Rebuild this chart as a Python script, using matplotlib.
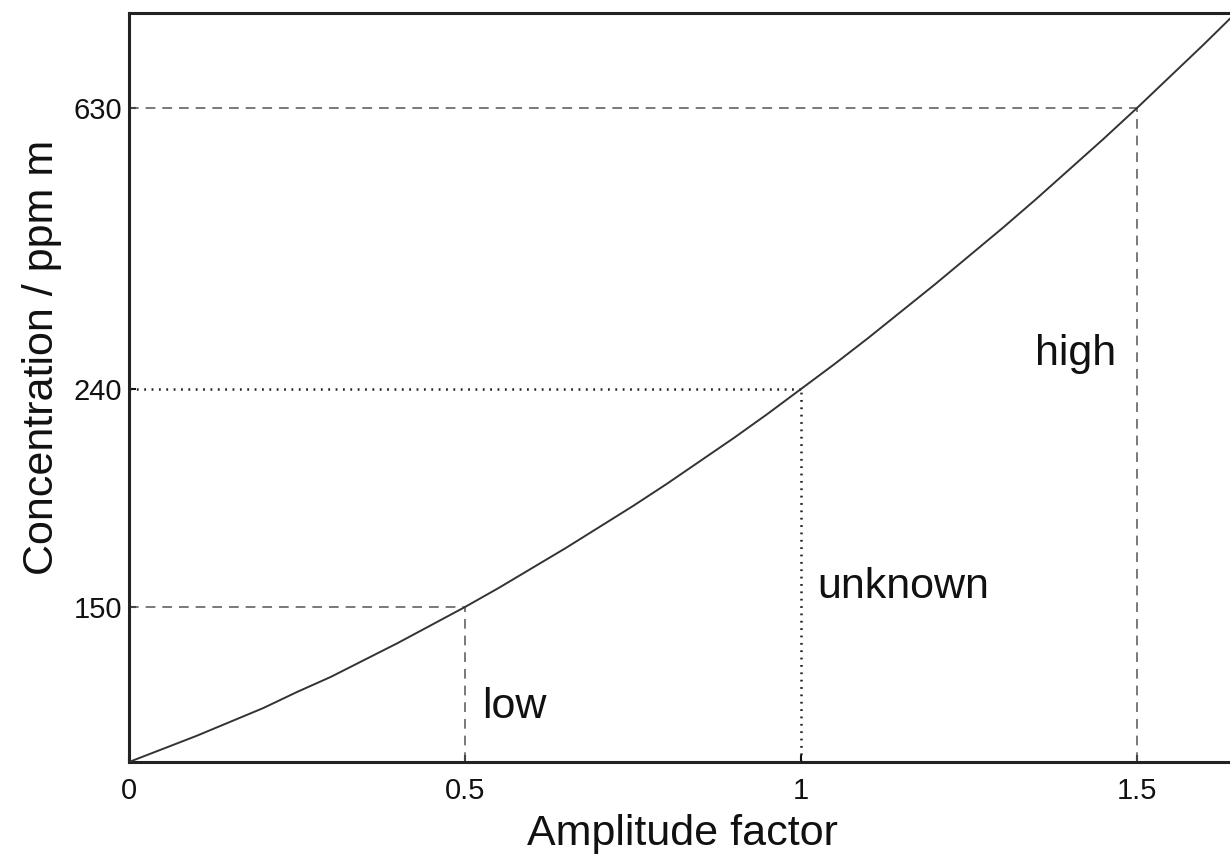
import numpy as np
import matplotlib
matplotlib.use("Agg")
import matplotlib.pyplot as plt

# calibration curve: signal height (arbitrary units) against amplitude factor
amplitude = [0.0, 0.05, 0.1, 0.15, 0.2, 0.25, 0.3, 0.35, 0.4, 0.45,
             0.5, 0.55, 0.6, 0.65, 0.7, 0.75, 0.8, 0.85, 0.9, 0.95,
             1.0, 1.05, 1.1, 1.15, 1.2, 1.25, 1.3, 1.35, 1.4, 1.45,
             1.5, 1.55, 1.6, 1.65, 1.7]
signal = [0, 13, 26, 40, 54, 70, 85, 102, 119, 137,
          155, 174, 194, 214, 235, 256, 278, 301, 324, 348,
          373, 398, 424, 451, 478, 506, 534, 563, 593, 623,
          654, 686, 718, 751, 784]

# reference samples marked on the curve
ref_amplitude = [0.5, 1.0, 1.5]
ref_conc = [150, 240, 630]
ref_names = ["low", "unknown", "high"]
ref_styles = ["dashed", "dotted", "dashed"]

plt.rcParams["font.family"] = ["Liberation Sans", "DejaVu Sans"]
plt.rcParams["lines.scale_dashes"] = False

fig = plt.figure(figsize=(12.3, 8.67), dpi=100)
ax = fig.add_axes([129 / 1230, 105 / 867, (1236 - 129) / 1230, 749 / 867])

ax.plot(amplitude, signal, color="#333333", lw=1.4, zorder=3)

ref_signal = np.interp(ref_amplitude, amplitude, signal)
for xa, ys, style in zip(ref_amplitude, ref_signal, ref_styles):
    ls = (0, (7, 5)) if style == "dashed" else (0, (1.3, 4))
    lw = 1.1 if style == "dashed" else 1.8
    col = "#555555" if style == "dashed" else "#222222"
    ax.plot([0, xa], [ys, ys], color=col, lw=lw, linestyle=ls, zorder=2)
    ax.plot([xa, xa], [0, ys], color=col, lw=lw, linestyle=ls, zorder=2)

# sample names next to the vertical guides
label_pos = [(0.525, 44), (1.024, 164), (1.348, 397)]
for (tx, ty), name in zip(label_pos, ref_names):
    ax.text(tx, ty, name, fontsize=31, va="baseline", ha="left", color="#111111")

ax.set_xlim(0, (1236 - 129) / 672)
ax.set_ylim(0, 749)

ax.set_xticks([0] + ref_amplitude)
ax.set_xticklabels(["0", "0.5", "1", "1.5"])
ax.set_yticks(ref_signal)
ax.set_yticklabels([str(c) for c in ref_conc])

ax.tick_params(axis="x", direction="in", length=5, width=1.5, pad=11,
               labelsize=21, colors="#111111")
ax.tick_params(axis="y", direction="in", length=5, width=1.5, pad=5,
               labelsize=21, colors="#111111")

for side in ["left", "bottom", "top", "right"]:
    ax.spines[side].set_linewidth(2.2)
    ax.spines[side].set_color("#222222")

ax.set_xlabel("Amplitude factor", fontsize=31, labelpad=6, color="#111111")
ax.set_ylabel("Concentration / ppm m", fontsize=31, labelpad=8, color="#111111",
              y=0.54)

fig.savefig("out.png", dpi=100)
